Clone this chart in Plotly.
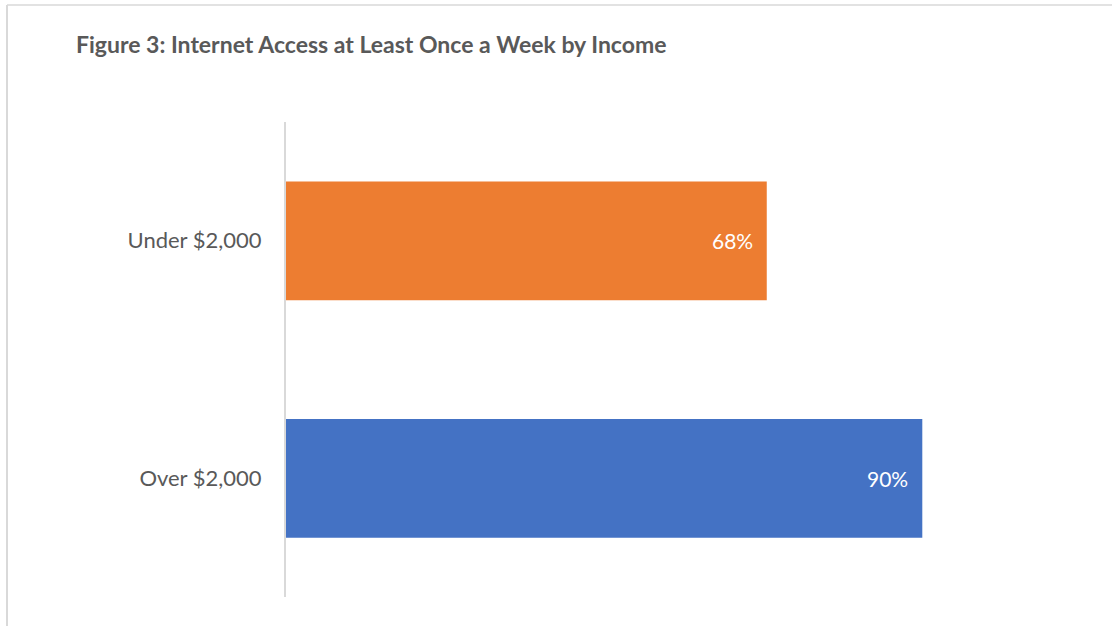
import plotly.graph_objects as go

# Share of respondents accessing the Internet at least once a week, by monthly income
categories = ["Under $2,000", "Over $2,000"]
shares = [0.68, 0.90]
bar_colors = ["#ED7D31", "#4472C4"]
title_text = "Figure 3: Internet Access at Least Once a Week by Income"

W, H = 1112, 626
FONT = "Lato, 'Open Sans', sans-serif"
GRAY = "#595959"
BORDER = "#D9D9D9"

fig = go.Figure(
    go.Bar(
        x=shares,
        y=categories,
        orientation="h",
        marker=dict(color=bar_colors, line=dict(width=0)),
        hoverinfo="skip",
    )
)

# value labels, placed inside the end of each bar
for cat, val in zip(categories, shares):
    fig.add_annotation(
        x=val, y=cat, xref="x", yref="y",
        text=f"{val:.0%}", showarrow=False,
        xanchor="right", yanchor="middle", xshift=-12,
        font=dict(family=FONT, size=21, color="white"),
    )

# chart title
fig.add_annotation(
    x=74 / W, y=1 - 44 / H, xref="paper", yref="paper",
    text=f"<b>{title_text}</b>", showarrow=False,
    xanchor="left", yanchor="middle",
    font=dict(family=FONT, size=23, color=GRAY),
)

# chart frame (top and left edges)
fig.add_shape(type="line", xref="paper", yref="paper",
              x0=7 / W, x1=7 / W, y0=0, y1=1 - 5 / H,
              line=dict(color=BORDER, width=2))
fig.add_shape(type="line", xref="paper", yref="paper",
              x0=7 / W, x1=1, y0=1 - 5 / H, y1=1 - 5 / H,
              line=dict(color=BORDER, width=1.5))

fig.update_layout(
    width=W, height=H,
    margin=dict(l=0, r=0, t=0, b=0),
    paper_bgcolor="white", plot_bgcolor="white",
    bargap=0.5,
    showlegend=False,
    xaxis=dict(
        domain=[286 / W, 993 / W],
        range=[0, 1],
        visible=False,
        fixedrange=True,
    ),
    yaxis=dict(
        domain=[1 - 597 / H, 1 - 122 / H],
        autorange="reversed",
        showline=True, linecolor=BORDER, linewidth=2,
        showgrid=False, zeroline=False, ticks="",
        ticklabelstandoff=18,
        tickfont=dict(family=FONT, size=22, color=GRAY),
        fixedrange=True,
    ),
)

fig.write_html("out.html", config={"displayModeBar": False})
